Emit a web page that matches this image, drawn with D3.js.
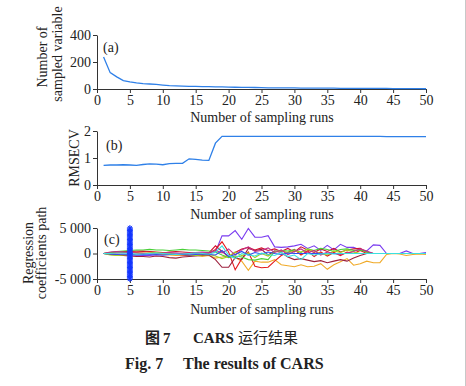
<!DOCTYPE html>
<html><head><meta charset="utf-8">
<script src="https://cdn.jsdelivr.net/npm/d3@7"></script>
<style>
html,body{margin:0;padding:0;background:#fff;}
svg{display:block;}
text{font-family:"Liberation Serif","Times New Roman",serif;fill:#222;}
</style></head>
<body>
<script>
const runs = d3.range(1, 51);
const xTicks = [0,5,10,15,20,25,30,35,40,45,50];

const nVars = [237,121,90,62,52,45,40,37,34,29,25,23,21,20,19,18,17,16,15,14,13,12,12,11,10,9,9,8,8,8,7,7,7,6,6,6,5,5,5,5,4,4,4,4,3,3,3,3,3,2];
const aTicks = [0,200,400];

const rmsecv = [0.73,0.74,0.74,0.75,0.74,0.73,0.76,0.78,0.77,0.75,0.79,0.80,0.80,0.97,0.95,0.92,0.91,1.55,1.80,1.80,
1.80,1.80,1.80,1.80,1.80,1.80,1.80,1.80,1.80,1.80,1.80,1.80,1.80,1.80,1.80,1.80,1.80,1.80,1.80,1.80,
1.80,1.80,1.80,1.79,1.79,1.79,1.79,1.79,1.79,1.79];
const bTicks = [0,1,2];

const cTicks = [-5000,0,5000];
const cTickLabels = ["-5 000","0","5 000"];

const coefNames = ["purple","orange","red","maroon","crimson","green","lime","magenta","blue","cyan"];
const coefColors = ["#7a3cf0","#f0aa28","#e41a1c","#9c1f3c","#d0102e","#48d038","#a8d020","#c0308e","#3050f0","#3ce0e0"];
const coefPurple = [0,-100,-200,-300,-300,-350,-400,-400,-300,-300,-200,-200,-100,-100,0,100,200,300,3450,3450,4500,2800,4900,3200,3200,3500,1300,1200,1300,1500,1800,1000,1500,600,1600,700,1800,1200,1200,700,500,1700,1600,0,0,0,500,0,0,200];
const coefOrange = [0,100,200,200,300,200,100,0,-100,-200,-300,-400,-300,-500,-300,-600,-400,-900,-700,-400,-800,-1500,-3300,-1500,-1700,-1700,-1200,-2200,-2400,-2600,-2200,-2600,-2500,-2000,-3100,-2200,-1600,-1000,-2300,-2000,-1500,-1800,-1800,-200,0,-100,-400,-200,-100,-200];
const coefRed = [0,200,300,400,400,500,500,400,300,200,0,-200,-300,-400,-300,-200,0,800,2300,300,-3200,-1000,300,-2500,-2800,-2700,-1500,-400,200,800,-300,500,-600,300,-500,200,-400,300,0,600,0,0,0,0,0,0,0,0,0,0];
const coefMaroon = [0,-200,-300,-400,-500,-600,-600,-700,-500,-600,-800,-900,-700,-600,-500,-400,-300,-1200,-2700,-2700,-800,-1200,1000,600,800,-300,500,200,-700,-1200,-1000,-1300,-1600,-1400,-1800,-1500,-1200,-1500,-900,-400,0,0,0,0,0,0,0,0,0,0];
const coefCrimson = [0,100,100,200,300,300,400,300,200,100,300,400,300,200,100,0,100,1500,400,-600,200,900,1200,700,1100,600,900,400,1000,300,1300,700,200,900,400,1000,300,700,900,1000,300,0,0,0,0,0,0,0,0,0];
const coefGreen = [0,200,400,500,600,700,700,800,700,700,600,700,800,700,700,600,500,300,-300,-800,-500,-700,-1200,-1300,-1000,-1200,400,600,500,700,200,900,600,1000,800,400,800,900,600,700,300,0,0,0,0,0,0,0,0,0];
const coefLime = [0,-300,-400,-300,-200,-100,0,100,200,100,0,-200,-100,-300,-400,-300,-200,-500,-1000,-600,300,-400,100,-800,0,-500,300,600,200,500,300,800,500,0,-300,500,200,700,300,0,0,0,0,0,0,0,0,0,0,0];
const coefMagenta = [0,300,400,300,200,100,0,-100,0,100,200,100,0,100,200,300,200,600,100,900,-300,700,1300,400,600,1100,200,700,-200,400,900,100,600,-300,300,0,-200,100,400,900,500,0,0,0,0,0,0,0,0,0];
const coefBlue = [0,-100,-200,-100,-200,-300,-200,-100,-200,-300,-200,-100,-200,-300,-200,-100,-200,-300,600,-600,-200,400,-300,200,-100,300,0,-200,100,0,0,0,0,0,0,0,0,0,0,0,0,0,0,0,0,0,0,0,0,0];
const coefCyan = [0,0,100,100,0,-100,-100,0,100,0,-100,-200,-100,0,100,0,-100,200,1500,-300,-1000,0,-300,-500,100,-200,-400,200,-600,-300,-1200,0,-300,-100,0,-100,0,0,0,0,0,0,0,0,0,0,0,0,0,0];
const coefSeries = [coefPurple,coefOrange,coefRed,coefMaroon,coefCrimson,coefGreen,coefLime,coefMagenta,coefBlue,coefCyan];

const bestRun = 5;
const starValues = [-5000,-4750,-4500,-4250,-4000,-3750,-3500,-3250,-3000,-2750,-2500,-2250,-2000,-1750,-1500,-1250,-1000,-750,-500,-250,0,250,500,750,1000,1250,1500,1750,2000,2250,2500,2750,3000,3250,3500,3750,4000,4250,4500,4750,5000];

const W = 466, H = 386;
const svg = d3.select("body").append("svg").attr("width", W).attr("height", H);
svg.append("rect").attr("width", W).attr("height", H).attr("fill", "#fff");
svg.append("line").attr("x1", 465.5).attr("x2", 465.5).attr("y1", 0).attr("y2", H).attr("stroke", "#c8c8c8");

const x = d3.scaleLinear().domain([0, 50]).range([97, 426]);
const FS = 14;

function drawAxes(y, yt, ylabels, xAxisY) {
  const gx = svg.append("g").attr("transform", `translate(0,${xAxisY})`)
    .call(d3.axisBottom(x).tickValues(xTicks).tickSize(4).tickSizeOuter(0).tickPadding(2));
  const gy = svg.append("g").attr("transform", `translate(${x(0)},0)`)
    .call(d3.axisLeft(y).tickValues(yt).tickFormat((d, i) => ylabels[i]).tickSize(4).tickSizeOuter(0).tickPadding(2));
  [gx, gy].forEach(g => {
    g.selectAll("text").style("font-family", '"Liberation Serif","Times New Roman",serif').style("font-size", FS + "px").attr("fill", "#222");
    g.selectAll("line,path").attr("stroke", "#333");
  });
}

// Panel (a)
const ya = d3.scaleLinear().domain([0, 400]).range([89, 35]);
drawAxes(ya, aTicks, aTicks.map(String), 89);
svg.append("path").datum(nVars)
  .attr("d", d3.line().x((d, i) => x(runs[i])).y(d => ya(d)))
  .attr("fill", "none").attr("stroke", "#2f80e8").attr("stroke-width", 1.3);
svg.append("text").attr("x", 103).attr("y", 52).style("font-size", FS + "px").text("(a)");
svg.append("text").attr("x", 262).attr("y", 122).attr("text-anchor", "middle").style("font-size", FS + "px").text("Number of sampling runs");
svg.append("text").attr("transform", "translate(47,57) rotate(-90)").attr("text-anchor", "middle").style("font-size", FS + "px").text("Number of");
svg.append("text").attr("transform", "translate(62,54) rotate(-90)").attr("text-anchor", "middle").style("font-size", FS + "px").text("sampled variable");

// Panel (b)
const yb = d3.scaleLinear().domain([0, 2]).range([185, 131]);
drawAxes(yb, bTicks, bTicks.map(String), 185);
svg.append("path").datum(rmsecv)
  .attr("d", d3.line().x((d, i) => x(runs[i])).y(d => yb(d)))
  .attr("fill", "none").attr("stroke", "#2f80e8").attr("stroke-width", 1.3);
svg.append("text").attr("x", 106).attr("y", 150).style("font-size", FS + "px").text("(b)");
svg.append("text").attr("x", 262).attr("y", 219).attr("text-anchor", "middle").style("font-size", FS + "px").text("Number of sampling runs");
svg.append("text").attr("transform", "translate(79,158) rotate(-90)").attr("text-anchor", "middle").style("font-size", FS + "px").text("RMSECV");

// Panel (c)
const yc = d3.scaleLinear().domain([-5000, 5000]).range([279, 228]);
drawAxes(yc, cTicks, cTickLabels, 279);
const lineC = d3.line().x((d, i) => x(runs[i])).y(d => yc(d));
coefSeries.forEach((s, k) => {
  svg.append("path").datum(s).attr("d", lineC)
    .attr("fill", "none").attr("stroke", coefColors[k]).attr("stroke-width", 1.1);
});
// asterisks at best run
const star = svg.append("g").attr("stroke", "#1436ff").attr("stroke-width", 1);
starValues.forEach(v => {
  const cx = x(bestRun), cy = yc(v), r = 3;
  const g = star.append("g").attr("transform", `translate(${cx},${cy})`);
  g.append("line").attr("x1", -r).attr("x2", r).attr("y1", 0).attr("y2", 0);
  g.append("line").attr("x1", 0).attr("x2", 0).attr("y1", -r).attr("y2", r);
  g.append("line").attr("x1", -r*0.7).attr("x2", r*0.7).attr("y1", -r*0.7).attr("y2", r*0.7);
  g.append("line").attr("x1", -r*0.7).attr("x2", r*0.7).attr("y1", r*0.7).attr("y2", -r*0.7);
});
svg.append("text").attr("x", 104).attr("y", 244).style("font-size", FS + "px").text("(c)");
svg.append("text").attr("x", 262).attr("y", 314).attr("text-anchor", "middle").style("font-size", FS + "px").text("Number of sampling runs");
svg.append("text").attr("transform", "translate(33,253) rotate(-90)").attr("text-anchor", "middle").style("font-size", FS + "px").text("Regression");
svg.append("text").attr("transform", "translate(46,253) rotate(-90)").attr("text-anchor", "middle").style("font-size", FS + "px").text("coefficients path");

// Captions
svg.append("text").attr("x", 145).attr("y", 343).style("font-size", "15px").style("font-weight", "bold")
  .style("font-family", '"Noto Sans CJK SC",sans-serif').text("图");
svg.append("text").attr("x", 163).attr("y", 343).style("font-size", "15px").style("font-weight", "bold").text("7");
svg.append("text").attr("x", 193).attr("y", 343).style("font-size", "15px").style("font-weight", "bold").text("CARS");
svg.append("text").attr("x", 238).attr("y", 343).style("font-size", "15px")
  .style("font-family", '"Noto Sans CJK SC",sans-serif').text("运行结果");
svg.append("text").attr("x", 125).attr("y", 369).style("font-size", "16px").style("font-weight", "bold").text("Fig. 7");
svg.append("text").attr("x", 183).attr("y", 369).style("font-size", "16px").style("font-weight", "bold").text("The results of CARS");
</script>
</body></html>
